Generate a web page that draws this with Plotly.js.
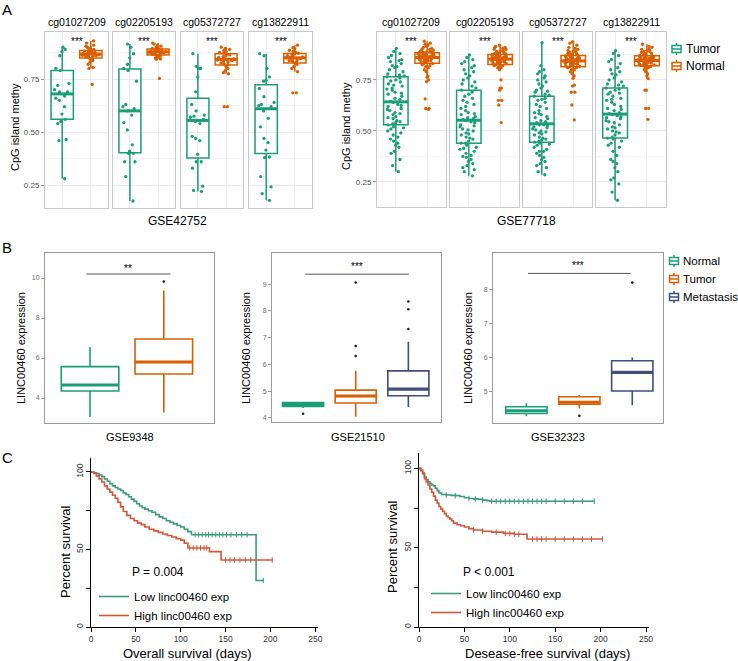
<!DOCTYPE html>
<html><head><meta charset="utf-8">
<script src="https://cdn.plot.ly/plotly-3.0.1.min.js"></script>
<style>html,body{margin:0;padding:0;background:#fff}#chart{width:738px;height:661px}</style>
</head><body><div id="chart"></div>
<script>
// ================= DATA =================
// Panel A : CpG island methylation (jittered samples)
const probes = ['cg01027209','cg02205193','cg05372727','cg13822911'];
const groupsA = ['Tumor','Normal'];
const gse42752_cg01027209_tumor  = [0.90,0.89,0.88,0.86,0.80,0.79,0.73,0.72,0.70,0.69,0.69,0.67,0.66,0.65,0.62,0.585,0.56,0.55,0.54,0.465,0.46,0.28];
const gse42752_cg01027209_normal = [0.93,0.92,0.91,0.905,0.90,0.895,0.89,0.887,0.884,0.882,0.88,0.878,0.876,0.874,0.872,0.87,0.868,0.866,0.864,0.862,0.86,0.858,0.856,0.854,0.85,0.846,0.842,0.838,0.83,0.82,0.805,0.80,0.725];
const gse42752_cg02205193_tumor  = [0.915,0.90,0.87,0.85,0.82,0.80,0.79,0.74,0.63,0.62,0.61,0.60,0.58,0.545,0.51,0.44,0.41,0.40,0.40,0.36,0.36,0.29,0.175];
const gse42752_cg02205193_normal = [0.92,0.915,0.91,0.905,0.90,0.898,0.895,0.892,0.89,0.888,0.886,0.884,0.882,0.88,0.879,0.877,0.875,0.873,0.871,0.869,0.867,0.865,0.863,0.86,0.857,0.853,0.85,0.845,0.843,0.753];
const gse42752_cg05372727_tumor  = [0.87,0.81,0.80,0.80,0.76,0.69,0.63,0.60,0.58,0.575,0.57,0.56,0.55,0.54,0.48,0.47,0.46,0.395,0.36,0.36,0.33,0.245,0.225,0.22];
const gse42752_cg05372727_normal = [0.90,0.895,0.89,0.885,0.88,0.876,0.872,0.868,0.864,0.86,0.856,0.852,0.848,0.845,0.843,0.84,0.837,0.834,0.83,0.826,0.822,0.818,0.81,0.80,0.79,0.78,0.775,0.62,0.62];
const gse42752_cg13822911_tumor  = [0.87,0.86,0.80,0.76,0.745,0.74,0.706,0.667,0.64,0.63,0.625,0.62,0.60,0.565,0.525,0.47,0.45,0.415,0.383,0.38,0.29,0.242,0.21,0.178];
const gse42752_cg13822911_normal = [0.91,0.898,0.892,0.886,0.88,0.876,0.872,0.868,0.864,0.86,0.857,0.854,0.852,0.85,0.847,0.844,0.84,0.837,0.834,0.83,0.825,0.82,0.81,0.80,0.785,0.685,0.685];

const gse77718_cg01027209_tumor  = [0.905,0.89,0.87,0.86,0.85,0.84,0.83,0.82,0.81,0.80,0.79,0.78,0.77,0.765,0.76,0.75,0.74,0.73,0.72,0.71,0.70,0.69,0.68,0.67,0.66,0.655,0.64,0.63,0.62,0.61,0.60,0.59,0.58,0.57,0.56,0.55,0.54,0.53,0.52,0.51,0.50,0.49,0.47,0.45,0.44,0.42,0.40,0.39,0.33,0.30,
  0.88,0.845,0.815,0.775,0.745,0.725,0.705,0.685,0.645,0.625,0.605,0.585,0.565,0.545,0.535,0.515,0.48,0.46,0.43,0.36];
const gse77718_cg01027209_normal = [0.94,0.93,0.92,0.915,0.91,0.905,0.90,0.895,0.89,0.888,0.886,0.884,0.882,0.88,0.878,0.876,0.874,0.872,0.87,0.868,0.866,0.864,0.862,0.86,0.858,0.856,0.854,0.852,0.85,0.848,0.845,0.842,0.84,0.835,0.83,0.825,0.82,0.81,0.80,0.79,0.763,0.742,0.657,0.61,0.606,
  0.925,0.90,0.89,0.885,0.88,0.875,0.87,0.865,0.86,0.855,0.85,0.845,0.84,0.83,0.815,0.77,0.75,0.61];
const gse77718_cg02205193_tumor  = [0.873,0.86,0.84,0.82,0.81,0.80,0.78,0.76,0.75,0.73,0.72,0.70,0.69,0.68,0.66,0.64,0.63,0.62,0.60,0.59,0.58,0.57,0.56,0.555,0.55,0.54,0.53,0.52,0.51,0.50,0.49,0.48,0.47,0.46,0.45,0.44,0.43,0.42,0.41,0.40,0.39,0.38,0.37,0.36,0.35,0.34,0.33,0.31,0.30,0.28,
  0.85,0.83,0.79,0.77,0.74,0.71,0.67,0.65,0.61,0.585,0.565,0.545,0.525,0.505,0.485,0.465,0.44,0.415,0.375,0.32];
const gse77718_cg02205193_normal = [0.92,0.915,0.91,0.905,0.90,0.895,0.89,0.885,0.88,0.878,0.875,0.872,0.87,0.868,0.865,0.862,0.86,0.858,0.856,0.854,0.852,0.85,0.848,0.845,0.842,0.84,0.838,0.835,0.832,0.83,0.825,0.82,0.815,0.81,0.80,0.75,0.71,0.70,0.65,0.627,0.541,
  0.91,0.90,0.89,0.88,0.875,0.87,0.865,0.86,0.855,0.85,0.845,0.84,0.835,0.83,0.82,0.81,0.71,0.65];
const gse77718_cg05372727_tumor  = [0.933,0.80,0.78,0.76,0.75,0.73,0.71,0.70,0.69,0.68,0.67,0.66,0.65,0.64,0.62,0.60,0.59,0.58,0.57,0.56,0.55,0.54,0.53,0.525,0.52,0.515,0.51,0.50,0.495,0.49,0.48,0.47,0.46,0.455,0.45,0.44,0.435,0.43,0.42,0.41,0.40,0.39,0.38,0.37,0.36,0.35,0.33,0.32,0.30,0.285,
  0.82,0.79,0.77,0.74,0.72,0.695,0.675,0.655,0.63,0.61,0.585,0.565,0.545,0.53,0.505,0.485,0.465,0.445,0.40,0.34];
const gse77718_cg05372727_normal = [0.938,0.92,0.91,0.90,0.895,0.89,0.885,0.88,0.875,0.87,0.868,0.865,0.862,0.86,0.857,0.855,0.852,0.85,0.848,0.845,0.843,0.84,0.838,0.835,0.832,0.83,0.827,0.824,0.82,0.817,0.814,0.81,0.80,0.79,0.78,0.77,0.758,0.725,0.69,0.627,0.554,
  0.93,0.905,0.89,0.88,0.87,0.86,0.855,0.85,0.845,0.84,0.835,0.83,0.825,0.82,0.81,0.80,0.72,0.69];
const gse77718_cg13822911_tumor  = [0.894,0.87,0.85,0.83,0.81,0.79,0.78,0.76,0.74,0.73,0.72,0.71,0.70,0.69,0.68,0.67,0.66,0.65,0.64,0.62,0.61,0.60,0.59,0.58,0.575,0.57,0.56,0.55,0.54,0.53,0.52,0.51,0.50,0.49,0.48,0.47,0.46,0.45,0.44,0.42,0.40,0.38,0.36,0.34,0.32,0.30,0.27,0.24,0.20,0.16,
  0.88,0.84,0.80,0.775,0.75,0.725,0.705,0.685,0.655,0.63,0.605,0.585,0.565,0.545,0.515,0.495,0.465,0.43,0.35,0.26];
const gse77718_cg13822911_normal = [0.925,0.91,0.90,0.895,0.89,0.885,0.88,0.875,0.87,0.868,0.865,0.862,0.86,0.857,0.855,0.852,0.85,0.848,0.845,0.843,0.84,0.838,0.835,0.832,0.83,0.827,0.824,0.82,0.815,0.81,0.80,0.79,0.78,0.77,0.756,0.70,0.611,0.557,
  0.915,0.90,0.89,0.88,0.87,0.865,0.86,0.855,0.85,0.845,0.84,0.835,0.83,0.825,0.82,0.81,0.70,0.61];

// Panel B : LINC00460 expression (box summaries + outliers)
const gse9348_groups  = ['Normal','Tumor'];
const gse9348_q1      = [4.35, 5.2];
const gse9348_median  = [4.65, 5.8];
const gse9348_q3      = [5.57, 6.95];
const gse9348_lower   = [3.05, 3.28];
const gse9348_upper   = [6.55, 9.37];
const gse9348_outliers = [[], [9.82]];

const gse21510_groups  = ['Normal','Tumor','Metastasis'];
const gse21510_q1      = [4.43, 4.56, 4.83];
const gse21510_median  = [4.50, 4.82, 5.08];
const gse21510_q3      = [4.58, 5.04, 5.76];
const gse21510_lower   = [4.37, 4.05, 4.41];
const gse21510_upper   = [4.61, 5.76, 6.85];
const gse21510_outliers = [[4.16], [6.31, 6.69, 9.06], [7.32, 8.06, 8.35]];

const gse32323_groups  = ['Normal','Tumor','Metastasis'];
const gse32323_q1      = [4.35, 4.62, 5.01];
const gse32323_median  = [4.43, 4.68, 5.56];
const gse32323_q3      = [4.55, 4.84, 5.90];
const gse32323_lower   = [4.27, 4.50, 4.59];
const gse32323_upper   = [4.65, 4.89, 6.00];
const gse32323_outliers = [[], [4.28], [8.20]];

// Panel C : Kaplan-Meier curves (time in days, percent survival)
const os_low_t  = [0,3,6,9,12,15,18,21,24,27,30,33,36,39,42,45,48,51,54,57,60,64,68,72,76,80,84,88,92,96,100,104,108,112,184,184,193];
const os_low_s  = [100,99.5,99,98,97,95.5,94,92.5,91,90,89,88,86.5,85.5,84,82.5,81,79.5,78,77,76,75,74,72.5,71,70,68.5,67.5,66.5,65.5,64.5,63,61.5,59.5,59.5,30,30];
const os_high_t = [0,3,6,9,12,15,18,21,24,27,30,33,36,40,44,48,52,56,60,65,70,75,80,85,90,95,100,104,108,132,132,145,145,202];
const os_high_s = [100,99,97.5,95.5,93.5,91,89,87,85,83,80.5,77.5,74.5,72,70,68.5,67,66,64.5,63,62,61,60,59,58,57,56,54,51,51,48.6,48.6,43.2,43.2];
const os_low_censor  = [116,120,124,128,131,135,139,143,147,151,156,162,168,174,192];
const os_high_censor = [110,114,118,122,126,129,150,155,160,166,172,178,202];

const dfs_low_t  = [0,2,4,6,8,10,12,14,16,18,20,22,25,30,35,40,45,50,55,60,65,70,75,78,193];
const dfs_low_s  = [100,98.5,96.5,94.5,93,91.5,90.5,89.5,89,87.5,86,84.5,83.5,83.2,83,82.8,82.3,81.5,81,80.8,80.5,80,79.7,79.3,79.3];
const dfs_high_t = [0,2,4,6,8,10,12,14,16,18,20,22,24,26,28,30,32,34,36,38,42,46,50,55,60,70,80,93,105,119,119,202];
const dfs_high_s = [100,99,97,93.5,91.5,89.5,87,85,82.5,80,78,76,74.5,73,71.5,70,69,68,67,65.5,64.5,63.8,63,62,61.2,60.4,59.8,59,58.5,58,55.5,55.5];
const dfs_low_censor  = [30,40,55,62,70,80,85,90,95,100,105,110,115,120,125,130,135,140,150,160,170,180,193];
const dfs_high_censor = [60,70,85,95,100,105,110,125,130,135,140,150,160,170,180,190,202];

// ================= DRAWING =================
const W = 738, H = 661;
const X = p => p / W, Y = p => 1 - p / H;
const FONT = 'Liberation Sans, Arial, sans-serif';
const GREEN = '#1b9e77', ORANGE = '#d95f02', NAVY = '#3e4f7b';
const KM_GREEN = '#3d9a7c', KM_RED = '#d5553a';
const colsA = [GREEN, ORANGE];
const colsB = [GREEN, ORANGE, NAVY];

function median(a){const s=[...a].sort((p,q)=>p-q);const n=s.length;return n%2?s[(n-1)/2]:(s[n/2-1]+s[n/2])/2;}
function stepAt(ts, ss, t){let v=ss[0];for(let i=0;i<ts.length;i++){if(ts[i]<=t) v=ss[i];}return v;}

const traces = [], shapes = [], annotations = [];
const layout = {
  width: W, height: H, margin:{l:0,r:0,t:0,b:0}, autosize:false,
  paper_bgcolor:'#fff', plot_bgcolor:'#fff', font:{family:FONT, color:'#000'},
  boxmode:'overlay', hovermode:false
};
function ann(text, px, py, size, opts){
  annotations.push(Object.assign({text, x:X(px), y:Y(py), xref:'paper', yref:'paper', showarrow:false,
    font:{size, family:FONT, color:'#000'}, xanchor:'center', yanchor:'middle'}, opts||{}));
}
// box-glyph legend entry (icon + label)
function legendItem(label, color, py, cx, tx, fs){
  const hw = 4.5, hh = 3.5, wh = 6;
  shapes.push({type:'rect', xref:'paper', yref:'paper', x0:X(cx-hw), x1:X(cx+hw), y0:Y(py+hh), y1:Y(py-hh),
    line:{color, width:1.5}, fillcolor:'#fff'});
  shapes.push({type:'line', xref:'paper', yref:'paper', x0:X(cx-hw), x1:X(cx+hw), y0:Y(py), y1:Y(py), line:{color, width:1.5}});
  shapes.push({type:'line', xref:'paper', yref:'paper', x0:X(cx), x1:X(cx), y0:Y(py-wh), y1:Y(py-hh), line:{color, width:1.5}});
  shapes.push({type:'line', xref:'paper', yref:'paper', x0:X(cx), x1:X(cx), y0:Y(py+hh), y1:Y(py+wh), line:{color, width:1.5}});
  ann(label, tx, py, fs, {xanchor:'left'});
}

// ---------- Panel A ----------
const facetsA = [
  {probe:0, x:[45,108],  y:[32,208], yr:[0.142,0.972], first:true,  t:gse42752_cg01027209_tumor, n:gse42752_cg01027209_normal},
  {probe:1, x:[113,175], y:[32,208], yr:[0.142,0.972], first:false, t:gse42752_cg02205193_tumor, n:gse42752_cg02205193_normal},
  {probe:2, x:[181,243], y:[32,208], yr:[0.142,0.972], first:false, t:gse42752_cg05372727_tumor, n:gse42752_cg05372727_normal},
  {probe:3, x:[249,312], y:[32,208], yr:[0.142,0.972], first:false, t:gse42752_cg13822911_tumor, n:gse42752_cg13822911_normal},
  {probe:0, x:[377,446], y:[32,207], yr:[0.127,0.985], first:true,  t:gse77718_cg01027209_tumor, n:gse77718_cg01027209_normal},
  {probe:1, x:[450,519], y:[32,207], yr:[0.127,0.985], first:false, t:gse77718_cg02205193_tumor, n:gse77718_cg02205193_normal},
  {probe:2, x:[523,592], y:[32,207], yr:[0.127,0.985], first:false, t:gse77718_cg05372727_tumor, n:gse77718_cg05372727_normal},
  {probe:3, x:[596,666], y:[32,207], yr:[0.127,0.985], first:false, t:gse77718_cg13822911_tumor, n:gse77718_cg13822911_normal}
];
const BW_A = 0.78;
facetsA.forEach((f, k) => {
  const i = k + 1;
  layout['xaxis'+i] = {domain:[X(f.x[0]), X(f.x[1])], anchor:'y'+i, range:[-0.6,1.6], tickvals:[0,1],
    showticklabels:false, ticks:'', showgrid:true, gridcolor:'#ebebeb', zeroline:false,
    showline:true, mirror:true, linecolor:'#c9c9c9', linewidth:1, fixedrange:true};
  layout['yaxis'+i] = {domain:[Y(f.y[1]), Y(f.y[0])], anchor:'x'+i, range:f.yr,
    tickvals:[0.25,0.5,0.75], ticktext:['0.25','0.50','0.75'], showticklabels:f.first,
    ticks:f.first?'outside':'', ticklen:3, tickcolor:'#9a9a9a', tickfont:{size:8, color:'#4d4d4d', family:FONT},
    showgrid:true, gridcolor:'#ebebeb', zeroline:false,
    minor:{tickvals:[0.125,0.375,0.625,0.875], showgrid:true, gridcolor:'#f5f5f5', ticks:''},
    showline:true, mirror:true, linecolor:'#c9c9c9', linewidth:1, fixedrange:true};
  [f.t, f.n].forEach((vals, g) => {
    traces.push({type:'box', y:vals, x0:g, xaxis:'x'+i, yaxis:'y'+i, name:groupsA[g], showlegend:false,
      boxpoints:'all', jitter:0.8, pointpos:0, width:BW_A, whiskerwidth:0,
      line:{color:colsA[g], width:1.5}, fillcolor:'rgba(255,255,255,0)',
      marker:{color:colsA[g], size:3.3, opacity:1}, hoverinfo:'skip'});
    const m = median(vals);
    shapes.push({type:'line', xref:'x'+i, yref:'y'+i, x0:g-BW_A/2, x1:g+BW_A/2, y0:m, y1:m,
      line:{color:colsA[g], width:3}});
  });
  const cx = (f.x[0]+f.x[1])/2;
  ann(probes[f.probe], cx, 22, 10.5);
  ann('***', cx, 42, 10);
});
ann('CpG island methy', 15, 127, 11, {textangle:-90});
ann('CpG island methy', 346, 126, 11, {textangle:-90});
ann('GSE42752', 177, 221, 12);
ann('GSE77718', 526, 221, 12);
groupsA.forEach((g, j) => legendItem(g, colsA[j], [49, 66][j], 676.5, 684, 12));

// ---------- Panel B ----------
const facetsB = [
  {i:9,  x:[45,214],  y:[253,423], xr:[-0.61,1.68], yr:[2.75,11.25], tv:[4,6,8,10], title:'GSE9348', tx:130,
   g:gse9348_groups, q1:gse9348_q1, med:gse9348_median, q3:gse9348_q3, lo:gse9348_lower, up:gse9348_upper, out:gse9348_outliers,
   sig:'**', sx:[-0.05,1.09], sy:10.2, ytx:21},
  {i:10, x:[272,441], y:[253,422], xr:[-0.59,2.62], yr:[3.85,10.16], tv:[4,5,6,7,8,9], title:'GSE21510', tx:358,
   g:gse21510_groups, q1:gse21510_q1, med:gse21510_median, q3:gse21510_q3, lo:gse21510_lower, up:gse21510_upper, out:gse21510_outliers,
   sig:'***', sx:[0.04,2.01], sy:9.37, ytx:246},
  {i:11, x:[493,663], y:[253,423], xr:[-0.63,2.58], yr:[4.07,9.07], tv:[5,6,7,8], title:'GSE32323', tx:558,
   g:gse32323_groups, q1:gse32323_q1, med:gse32323_median, q3:gse32323_q3, lo:gse32323_lower, up:gse32323_upper, out:gse32323_outliers,
   sig:'***', sx:[0.03,1.97], sy:8.47, ytx:468}
];
const BW_B = 0.78;
facetsB.forEach(f => {
  const i = f.i;
  layout['xaxis'+i] = {domain:[X(f.x[0]), X(f.x[1])], anchor:'y'+i, range:f.xr, showticklabels:false, ticks:'',
    showgrid:false, zeroline:false, showline:true, mirror:true, linecolor:'#9b9b9b', linewidth:1, fixedrange:true};
  layout['yaxis'+i] = {domain:[Y(f.y[1]), Y(f.y[0])], anchor:'x'+i, range:f.yr, tickvals:f.tv,
    ticks:'outside', ticklen:3, tickcolor:'#9b9b9b', tickfont:{size:7, color:'#6b6b6b', family:FONT},
    showgrid:false, zeroline:false, showline:true, mirror:true, linecolor:'#9b9b9b', linewidth:1, fixedrange:true};
  f.g.forEach((name, g) => {
    traces.push({type:'box', x:[g], q1:[f.q1[g]], median:[f.med[g]], q3:[f.q3[g]],
      lowerfence:[f.lo[g]], upperfence:[f.up[g]], boxpoints:false, width:BW_B, whiskerwidth:0,
      xaxis:'x'+i, yaxis:'y'+i, name:name, showlegend:false,
      line:{color:colsB[g], width:1.6}, fillcolor:'#ffffff', hoverinfo:'skip'});
    shapes.push({type:'line', xref:'x'+i, yref:'y'+i, x0:g-BW_B/2, x1:g+BW_B/2, y0:f.med[g], y1:f.med[g],
      line:{color:colsB[g], width:3.2}});
    if (f.out[g].length) {
      traces.push({type:'scatter', mode:'markers', x:f.out[g].map(() => g), y:f.out[g],
        xaxis:'x'+i, yaxis:'y'+i, showlegend:false, marker:{color:'#222', size:2.6}, hoverinfo:'skip'});
    }
  });
  shapes.push({type:'line', xref:'x'+i, yref:'y'+i, x0:f.sx[0], x1:f.sx[1], y0:f.sy, y1:f.sy,
    line:{color:'#555', width:1}});
  ann(f.title, f.tx, 437, 11);
  ann('LINC00460 expression', f.ytx, 348, 11, {textangle:-90});
});
ann('**', 128, 268, 10);
ann('***', 357, 267, 10);
ann('***', 578, 266, 10);
gse21510_groups.forEach((g, j) => legendItem(g, colsB[j], [261, 279, 297][j], 674, 681, 11.5));

// ---------- Panel C ----------
const facetsC = [
  {i:12, x:[91,318], y:[458,627], xr:[0,253], yr:[0,109], leg:'legend',
   lt:os_low_t, ls:os_low_s, ht:os_high_t, hs:os_high_s, lc:os_low_censor, hc:os_high_censor},
  {i:13, x:[419,649], y:[453,627], xr:[0,253.3], yr:[0,109.7], leg:'legend2',
   lt:dfs_low_t, ls:dfs_low_s, ht:dfs_high_t, hs:dfs_high_s, lc:dfs_low_censor, hc:dfs_high_censor}
];
facetsC.forEach(f => {
  const i = f.i;
  const axStyle = {ticks:'outside', ticklen:4, tickcolor:'#000', tickwidth:1, showline:true, linecolor:'#000', linewidth:1,
    showgrid:false, zeroline:false, tickfont:{size:8.5, color:'#333', family:FONT}, fixedrange:true};
  layout['xaxis'+i] = Object.assign({domain:[X(f.x[0]), X(f.x[1])], anchor:'y'+i, range:f.xr,
    tickvals:[0,50,100,150,200,250]}, axStyle);
  layout['yaxis'+i] = Object.assign({domain:[Y(f.y[1]), Y(f.y[0])], anchor:'x'+i, range:f.yr,
    tickvals:[0,25,50,75,100], ticktext:['0','','50','','100'], tickangle:-90}, axStyle);
  const curves = [
    {name:'Low linc00460 exp', t:f.lt, s:f.ls, c:f.lc, col:KM_GREEN},
    {name:'High linc00460 exp', t:f.ht, s:f.hs, c:f.hc, col:KM_RED}
  ];
  curves.forEach(cv => {
    traces.push({type:'scatter', mode:'lines', x:cv.t, y:cv.s, line:{shape:'hv', color:cv.col, width:1.6},
      xaxis:'x'+i, yaxis:'y'+i, name:cv.name, legend:f.leg, showlegend:true, hoverinfo:'skip'});
    traces.push({type:'scatter', mode:'markers', x:cv.c, y:cv.c.map(t => stepAt(cv.t, cv.s, t)),
      marker:{symbol:'line-ns', size:4, line:{color:cv.col, width:1}}, xaxis:'x'+i, yaxis:'y'+i,
      showlegend:false, hoverinfo:'skip'});
  });
});
ann('Percent survival', 65, 552, 13, {textangle:-90});
ann('Percent survival', 392, 547, 13, {textangle:-90});
ann('Overall survival (days)', 187, 653, 13);
ann('Desease-free survival (days)', 547, 653, 13);
ann('P = 0.004', 130, 572, 12, {xanchor:'left'});
ann('P < 0.001', 461, 572, 12, {xanchor:'left'});

// panel letters
ann('A', 7, 9, 15);
ann('B', 7, 247, 15);
ann('C', 7, 457, 15);

// legends for panel C
const legBase = {xanchor:'left', yanchor:'top', bgcolor:'rgba(0,0,0,0)', borderwidth:0, tracegroupgap:0,
  font:{size:11.5, family:FONT, color:'#000'}, itemclick:false, itemdoubleclick:false};
layout.legend  = Object.assign({x:X(94), y:Y(582)}, legBase);
layout.legend2 = Object.assign({x:X(426), y:Y(579)}, legBase);

layout.shapes = shapes;
layout.annotations = annotations;
Plotly.newPlot('chart', traces, layout, {staticPlot:true, displayModeBar:false});
</script>
</body></html>
